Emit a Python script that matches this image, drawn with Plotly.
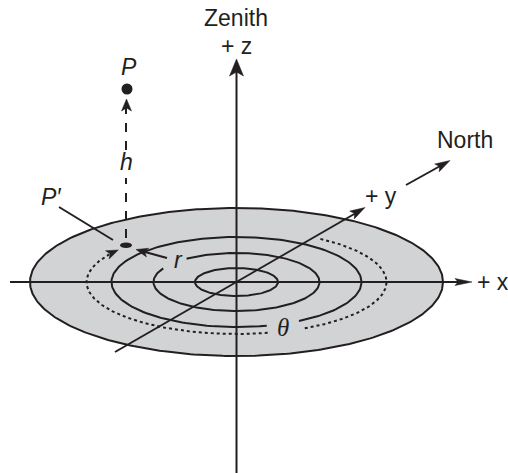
import numpy as np
import plotly.graph_objects as go

# ---- diagram data (pixel space of a 508x473 canvas) ----
W, H = 508, 473
center = (236.5, 282.0)
disc_rx, disc_ry = 206.5, 74.0
ring_rx = [41.5, 83.0, 125.0]
ring_ry = [14.0, 29.0, 45.0]
ring_gaps = [None, (127.0, 152.0), (-76.0, -60.0)]   # degrees
path_rx, path_ry = 150.0, 52.0
path_start, path_end = 56.0, -218.0
path_gap = (-78.0, -64.0)

labels = ["Zenith", "+ z", "<i>P</i>", "<i>h</i>", "<i>P′</i>", "<i>r</i>", "+ y", "North", "+ x"]
label_x = [236, 236, 129, 126, 51, 178, 381, 465, 493]
label_y = [18, 46, 67, 162, 197, 260, 196, 140, 282]

INK = "#231f20"
GRAY = "#d1d3d4"
LW = 2

fig = go.Figure()


def ell(rx, ry, t0, t1, n=200):
    t = np.radians(np.linspace(t0, t1, n))
    return center[0] + rx * np.cos(t), center[1] - ry * np.sin(t)


def line(x, y, dash="solid", width=LW):
    fig.add_trace(go.Scatter(x=list(x), y=list(y), mode="lines",
                             line=dict(color=INK, width=width, dash=dash),
                             hoverinfo="skip", showlegend=False))


def head(tip, d, length, width, notch=3):
    d = np.array(d, float)
    d = d / np.linalg.norm(d)
    n = np.array([-d[1], d[0]])
    tip = np.array(tip, float)
    base = tip - d * length
    a = base + n * width / 2
    b = tip - d * (length - notch)
    c = base - n * width / 2
    pts = [tip, a, b, c, tip]
    fig.add_trace(go.Scatter(x=[p[0] for p in pts], y=[p[1] for p in pts],
                             mode="lines", fill="toself", fillcolor=INK,
                             line=dict(color=INK, width=0.5),
                             hoverinfo="skip", showlegend=False))


# disc
x, y = ell(disc_rx, disc_ry, 0, 360, 400)
fig.add_trace(go.Scatter(x=x, y=y, mode="lines", fill="toself", fillcolor=GRAY,
                         line=dict(color=INK, width=LW), hoverinfo="skip",
                         showlegend=False))

# rings
for rx, ry, gap in zip(ring_rx, ring_ry, ring_gaps):
    if gap is None:
        line(*ell(rx, ry, 0, 360))
    else:
        line(*ell(rx, ry, gap[1], gap[0] + 360))

# dotted path with gap for theta
line(*ell(path_rx, path_ry, path_start, path_gap[1], 150), dash="dot")
line(*ell(path_rx, path_ry, path_gap[0], path_end + 6, 200), dash="dot")
t = np.radians(path_end)
tip = (center[0] + path_rx * np.cos(t), center[1] - path_ry * np.sin(t))
head(tip, (path_rx * np.sin(t), path_ry * np.cos(t)), 12, 9)

# axes
line([10, 462], [282, 282])
head((472, 282), (1, 0), 17, 7, 3)
line([236.5, 236.5], [70, 473])
head((236.5, 59), (0, -1), 17, 14, 4)
line([115, 356], [352, 213])
head((365, 207.5), (128, -74), 15, 9, 3)
line([406, 442], [185, 165])
head((450, 160.5), (44, -25), 15, 9, 3)

# h dashed line
line([126, 126], [238, 178], dash="dash")
line([126, 126], [150, 108], dash="dash")
head((126.5, 99), (0, -1), 12, 10, 3)

# P' leader and r arrow
line([59, 113], [207, 240])
line([167, 145], [258, 252])
head((136, 249.5), (-30, -8), 12, 9, 3)

# points
fig.add_trace(go.Scatter(x=[127], y=[89], mode="markers",
                         marker=dict(size=11, color=INK), hoverinfo="skip",
                         showlegend=False))
fig.add_shape(type="circle", xref="x", yref="y", x0=120, x1=132, y0=242.5, y1=248,
              fillcolor=INK, line=dict(color=INK, width=0))

for txt, lx, ly in zip(labels, label_x, label_y):
    fig.add_annotation(x=lx, y=ly, text=txt, showarrow=False, xanchor="center",
                       yanchor="middle",
                       font=dict(family="Liberation Sans, Arial", size=23, color=INK))
fig.add_annotation(x=283, y=327, text="<i>θ</i>", showarrow=False, xanchor="center",
                   yanchor="middle",
                   font=dict(family="Liberation Serif, Times New Roman", size=25, color=INK))

fig.update_layout(width=W, height=H, margin=dict(l=0, r=0, t=0, b=0),
                  paper_bgcolor="white", plot_bgcolor="white",
                  xaxis=dict(range=[0, W], visible=False, fixedrange=True),
                  yaxis=dict(range=[H, 0], visible=False, fixedrange=True),
                  showlegend=False)
fig.write_html("out.html", config={"displayModeBar": False},
               post_script="document.body.style.margin='0';document.body.style.padding='0';document.body.style.overflow='hidden';")
